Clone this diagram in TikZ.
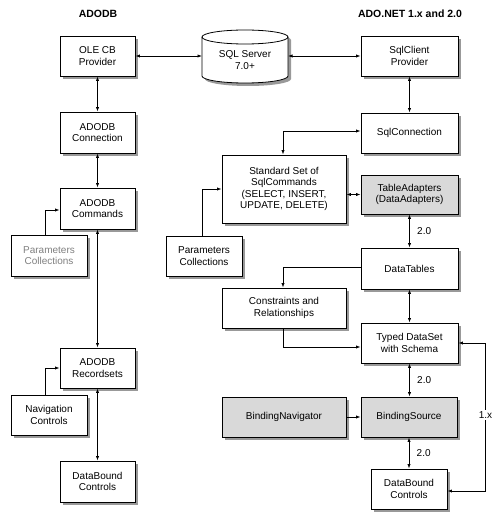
\documentclass[tikz,border=0pt]{standalone}
\usepackage{fontspec}
\setmainfont{Liberation Sans}
\usetikzlibrary{arrows.meta,shadows}
\begin{document}
\begin{tikzpicture}[x=1pt,y=-1pt,
  box/.style={draw=black, line width=0.8pt, fill=white, align=center, inner sep=1pt,
    font=\fontsize{10}{11.5}\selectfont,
    drop shadow={shadow xshift=3pt, shadow yshift=-3pt, fill=black!40, opacity=1}},
  gbox/.style={box, fill=black!15},
  conn/.style={line width=0.7pt, {Latex[length=4.5pt,width=3.2pt]}-{Latex[length=4.5pt,width=3.2pt]}},
  oneway/.style={line width=0.7pt, -{Latex[length=4.5pt,width=3.2pt]}},
  lbl/.style={font=\fontsize{10}{11.5}\selectfont},
  title/.style={font=\bfseries\fontsize{10.5}{12}\selectfont}]
\useasboundingbox[fill=white] (0,0) rectangle (500,516);

% titles
\node[title] (t1) at (98,14) {ADODB};
\node[title] (t2) at (410,14) {ADO.NET 1.x and 2.0};

% SQL Server cylinder
\fill[black!40] (205,40) -- (205,79) arc[start angle=180,end angle=360,x radius=43pt,y radius=7pt]
  -- (291,40) arc[start angle=0,end angle=180,x radius=43pt,y radius=7pt] -- cycle;
\filldraw[fill=white, draw=black, line width=0.8pt] (202,37) -- (202,76)
  arc[start angle=180,end angle=360,x radius=43pt,y radius=7pt]
  -- (288,37) arc[start angle=0,end angle=180,x radius=43pt,y radius=7pt] -- cycle;
\draw[line width=0.8pt] (202,37) arc[start angle=180,end angle=360,x radius=43pt,y radius=7pt];
\node[minimum width=86, minimum height=53, inner sep=0, outer sep=0] (sql) at (245,56.5) {};
\node[lbl, align=center] (sqltxt) at (245,60) {SQL Server\\7.0+};

% left column
\node[box, minimum width=75, minimum height=40] (ole) at (97.5,56) {OLE CB\\Provider};
\node[box, minimum width=75, minimum height=41] (adoconn) at (97.5,132.5) {ADODB\\Connection};
\node[box, minimum width=75, minimum height=41] (cmd) at (97.5,208.5) {ADODB\\Commands};
\node[box, minimum width=76, minimum height=41, text=black!50] (paramL) at (49,255.5) {Parameters\\Collections};
\node[box, minimum width=75, minimum height=40] (rs) at (97.5,368) {ADODB\\Recordsets};
\node[box, minimum width=76, minimum height=40] (nav) at (49,415) {Navigation\\Controls};
\node[box, minimum width=75, minimum height=41] (dbL) at (97.5,481.5) {DataBound\\Controls};

% right column
\node[box, minimum width=97, minimum height=40] (sqlc) at (409.5,56) {SqlClient\\Provider};
\node[box, minimum width=97, minimum height=40] (sqlconn) at (409.5,133) {SqlConnection};
\node[gbox, minimum width=97, minimum height=39] (ta) at (409.5,194.5) {TableAdapters\\(DataAdapters)};
\node[box, minimum width=97, minimum height=41] (dt) at (409.5,268.5) {DataTables};
\node[box, minimum width=97, minimum height=40] (typed) at (409.5,343) {Typed DataSet\\with Schema};
\node[gbox, minimum width=96, minimum height=40] (bs) at (409,417) {BindingSource};
\node[box, minimum width=76, minimum height=40] (dbR) at (409,489) {DataBound\\Controls};

% middle column
\node[box, minimum width=124, minimum height=68] (std) at (284,189) {Standard Set of\\SqlCommands\\(SELECT, INSERT,\\UPDATE, DELETE)};
\node[box, minimum width=76, minimum height=40] (paramR) at (204,256) {Parameters\\Collections};
\node[box, minimum width=124, minimum height=40] (cons) at (284,308) {Constraints and\\Relationships};
\node[gbox, minimum width=124, minimum height=40] (bn) at (284,417) {BindingNavigator};

% connectors left
\draw[conn] (ole.east) -- (ole.east -| sql.west);
\draw[conn] (sql.east |- sqlc.west) -- (sqlc.west);
\draw[conn] (ole.south) -- (adoconn.north);
\draw[conn] (adoconn.south) -- (cmd.north);
\draw[conn] (cmd.south) -- (rs.north);
\draw[conn] (rs.south) -- (dbL.north);
\draw[oneway] ([xshift=-4pt]paramL.north) |- ([yshift=-1.5pt]cmd.west);
\draw[oneway] ([xshift=-4pt]nav.north) |- (rs.west);

% connectors right
\draw[conn] (sqlc.south) -- (sqlconn.north);
\draw[conn] ([yshift=2pt]sqlconn.west) -| ([xshift=-1pt]std.north);
\draw[conn] (std.east |- ta.west) -- (ta.west);
\draw[oneway] ([xshift=-2pt]paramR.north) |- (std.west);
\draw[conn] (ta.south) -- (dt.north) node[midway, right, xshift=4pt, lbl] (l1) {2.0};
\draw[oneway] ([yshift=1.5pt]dt.west) -| ([xshift=-1pt]cons.north);
\draw[oneway] ([xshift=-1pt]cons.south) |- ([yshift=-4pt]typed.west);
\draw[conn] (dt.south) -- (typed.north);
\draw[conn] (typed.south) -- (typed.south |- bs.north) node[midway, right, xshift=4pt, lbl] (l2) {2.0};
\draw[oneway] (bn.east) -- (bs.west);
\draw[conn] (dbR.north |- bs.south) -- (dbR.north) node[midway, right, xshift=4pt, lbl] (l3) {2.0};
\draw[conn] (typed.east) -- ++(27,0) |- ([yshift=-2pt]dbR.east);
\node[lbl, fill=white, inner sep=1.5pt] (l4) at (485.5,415) {1.x};
\end{tikzpicture}
\end{document}
